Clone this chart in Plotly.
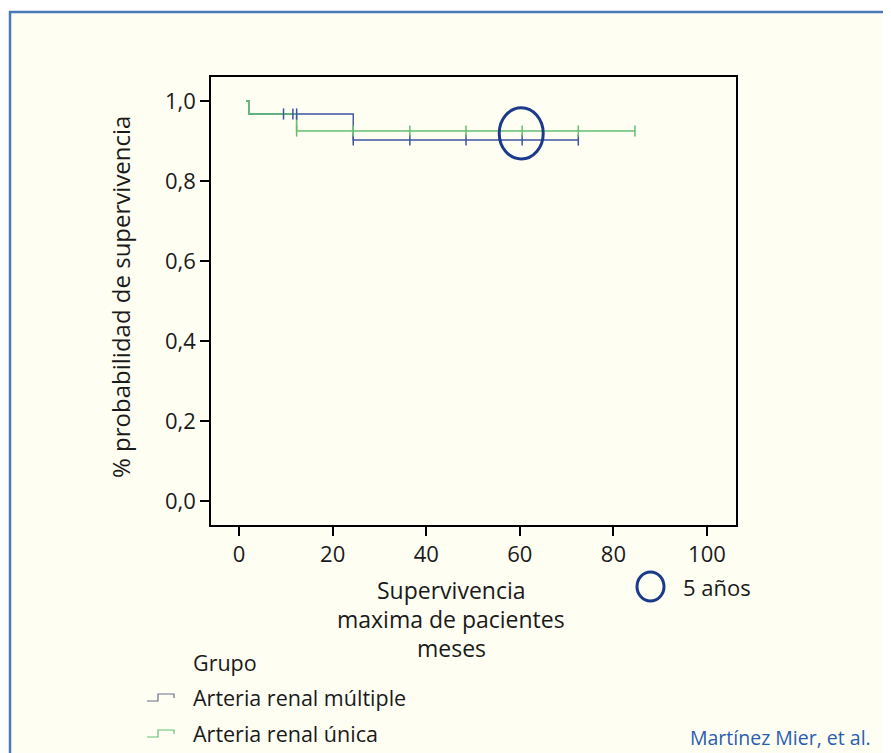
import plotly.graph_objects as go

# ---- data ----
series_names = ["Arteria renal múltiple", "Arteria renal única"]

multi_time = [1.5, 2.1, 24.4, 72.5]
multi_surv = [1.0, 0.9675, 0.9025, 0.9025]
multi_cens_time = [9.5, 11.5, 12.3, 24.4, 36.5, 48.5, 60.5, 72.5]
multi_cens_surv = [0.9675, 0.9675, 0.9675, 0.9025, 0.9025, 0.9025, 0.9025, 0.9025]

unica_time = [1.5, 2.1, 12.3, 84.6]
unica_surv = [1.0, 0.9675, 0.925, 0.925]
unica_cens_time = [12.3, 24.4, 36.5, 48.5, 60.5, 72.5, 84.6]
unica_cens_surv = [0.925, 0.925, 0.925, 0.925, 0.925, 0.925, 0.925]

five_year_x = 60.3
five_year_y = 0.919

x_ticks = [0, 20, 40, 60, 80, 100]
y_ticks = [0.0, 0.2, 0.4, 0.6, 0.8, 1.0]

# ---- styling ----
BLUE = "#3f54a0"
GREEN = "#62c070"
NAVY = "#1b3a8c"
CREAM = "#fefef2"
BORDER = "#4a78b8"
FONT = "Open Sans"
TXT = "#1a1a1a"

OFF = 8  # page body margin
W, H = 891 - OFF, 753 - OFF
L, R, T, B = 211 - OFF, 736 - OFF, 77 - OFF, 525 - OFF


def px(p):
    return (p - OFF - L) / (R - L)


def py(p):
    return (B - (p - OFF)) / (B - T)


fig = go.Figure()

fig.add_trace(go.Scatter(x=multi_time, y=multi_surv, mode="lines", line_shape="hv",
                         line=dict(color=BLUE, width=1.4), name=series_names[0], showlegend=False))
fig.add_trace(go.Scatter(x=unica_time, y=unica_surv, mode="lines", line_shape="hv",
                         line=dict(color=GREEN, width=1.6), name=series_names[1], showlegend=False))
fig.add_trace(go.Scatter(x=multi_cens_time, y=multi_cens_surv, mode="markers",
                         marker=dict(symbol="line-ns-open", size=8, color=BLUE,
                                     line=dict(color=BLUE, width=1.5)),
                         showlegend=False))
fig.add_trace(go.Scatter(x=unica_cens_time, y=unica_cens_surv, mode="markers",
                         marker=dict(symbol="line-ns-open", size=8, color=GREEN,
                                     line=dict(color=GREEN, width=1.5)),
                         showlegend=False))

shapes = []
# background panel
shapes.append(dict(type="rect", xref="paper", yref="paper",
                   x0=px(10), x1=px(905), y0=py(775), y1=py(12),
                   fillcolor=CREAM, line=dict(width=0), layer="below"))
# panel border: top and left only
shapes.append(dict(type="line", xref="paper", yref="paper",
                   x0=px(9), x1=px(905), y0=py(12), y1=py(12),
                   line=dict(color=BORDER, width=2.5), layer="below"))
shapes.append(dict(type="line", xref="paper", yref="paper",
                   x0=px(10), x1=px(10), y0=py(11), y1=py(775),
                   line=dict(color=BORDER, width=2.5), layer="below"))
# 5-year circle
shapes.append(dict(type="circle", xref="x", yref="y",
                   x0=five_year_x - 4.7, x1=five_year_x + 4.7,
                   y0=five_year_y - 0.064, y1=five_year_y + 0.064,
                   line=dict(color=NAVY, width=3)))
# 5-year legend circle
shapes.append(dict(type="circle", xref="paper", yref="paper",
                   x0=px(637), x1=px(664), y0=py(601), y1=py(572),
                   line=dict(color=NAVY, width=3)))


def step_icon(yc, color):
    return dict(type="path", xref="paper", yref="paper",
                path=(f"M {px(147)},{py(yc + 4)} L {px(158)},{py(yc + 4)} "
                      f"L {px(158)},{py(yc - 3)} L {px(174)},{py(yc - 3)} L {px(174)},{py(yc + 1)}"),
                line=dict(color=color, width=1.2))


shapes.append(step_icon(697, "#6a6f88"))
shapes.append(step_icon(733, GREEN))

annotations = []


def ann(text, xp, yp, size=20, color=TXT, xanchor="center", yanchor="middle", angle=0):
    annotations.append(dict(text=text, xref="paper", yref="paper", x=px(xp), y=py(yp),
                            xanchor=xanchor, yanchor=yanchor, showarrow=False, textangle=angle,
                            font=dict(family=FONT, size=size, color=color)))


ann("% probabilidad de supervivencia", 120, 297, size=24, angle=-90)
ann("Supervivencia", 451, 590, size=23)
ann("maxima de pacientes", 451, 619, size=23)
ann("meses", 451, 648, size=23)
ann("5 años", 681, 587, size=22, xanchor="left")
ann("Grupo", 191, 662, size=21.5, xanchor="left")
ann(series_names[0], 191, 697, size=21.5, xanchor="left")
ann(series_names[1], 191, 733, size=21.5, xanchor="left")
ann("Martínez Mier, et al.", 873, 737, size=19.5, color="#2a5db0", xanchor="right")

fig.update_layout(
    width=W, height=H,
    margin=dict(l=L, r=W - R, t=T, b=H - B),
    paper_bgcolor="white", plot_bgcolor=CREAM,
    separators=",.",
    shapes=shapes, annotations=annotations,
    font=dict(family=FONT, size=22, color=TXT),
    xaxis=dict(range=[-6.0, 106.2], tickvals=x_ticks, ticks="outside", ticklen=9, tickwidth=2,
               tickcolor="black", showline=True, linecolor="black", linewidth=1.5, mirror=True,
               showgrid=False, zeroline=False, tickfont=dict(size=22, color=TXT)),
    yaxis=dict(range=[-0.06, 1.06], tickvals=y_ticks, tickformat=".1f", ticks="outside", ticklen=9,
               tickwidth=2, tickcolor="black", showline=True, linecolor="black", linewidth=1.5,
               mirror=True, showgrid=False, zeroline=False, tickfont=dict(size=22, color=TXT)),
)

fig.write_html("out.html")
